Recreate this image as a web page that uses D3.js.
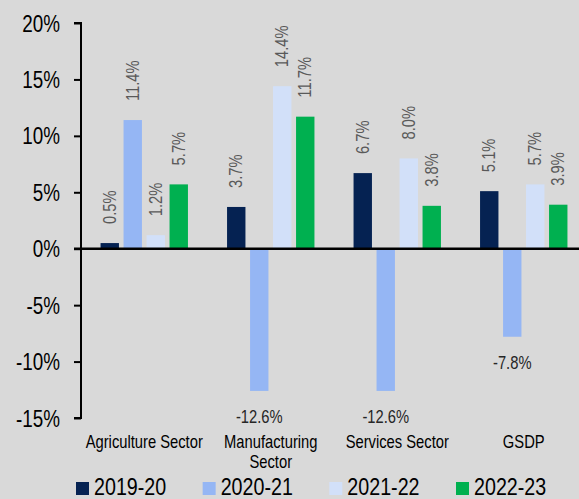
<!DOCTYPE html>
<html><head><meta charset="utf-8">
<script src="https://cdn.jsdelivr.net/npm/d3@7"></script>
<style>
html,body{margin:0;padding:0;background:#d9d9d9;}
svg{display:block;}
text{font-family:"Liberation Sans",Arial,sans-serif;}
</style></head>
<body>
<svg id="chart" width="579" height="499"></svg>
<script>
const categories = [["Agriculture Sector"], ["Manufacturing", "Sector"], ["Services Sector"], ["GSDP"]];
const seriesNames = ["2019-20", "2020-21", "2021-22", "2022-23"];
const colors = ["#052252", "#95b6f4", "#d2e0f9", "#00b050"];
const values = [
  [0.5, 3.7, 6.7, 5.1],
  [11.4, -12.6, -12.6, -7.8],
  [1.2, 14.4, 8.0, 5.7],
  [5.7, 11.7, 3.8, 3.9]
];
const yTicks = [20, 15, 10, 5, 0, -5, -10, -15];
const NARROW = 0.82;

const svg = d3.select("#chart");
svg.append("rect").attr("width", 579).attr("height", 499).attr("fill", "#d9d9d9");

function narrowText(parent, x, y, str, opts) {
  const rot = opts.rotate ? ` rotate(${opts.rotate})` : "";
  return parent.append("text")
    .attr("transform", `translate(${x},${y})${rot} scale(${NARROW},1)`)
    .attr("text-anchor", opts.anchor || "start")
    .attr("fill", opts.fill || "#000")
    .style("font-size", opts.size + "px")
    .text(str);
}

const catKeys = categories.map(c => c.join(" "));
const y = d3.scaleLinear().domain([-15, 20]).range([418, 23]);
const x0 = d3.scaleBand().domain(catKeys).range([81, 587]).padding(0);
const x1 = d3.scaleBand().domain(seriesNames).range([0, 92]).paddingInner(0.2).paddingOuter(0.1);
const groupOffset = (x0.bandwidth() - 92) / 2;

// y axis
const yAxis = d3.axisLeft(y).tickValues(yTicks).tickSize(7).tickFormat(d => d + "%");
const gy = svg.append("g").attr("transform", "translate(81,0)").call(yAxis);
gy.select(".domain").attr("stroke", "#000").attr("stroke-width", 2).attr("d", `M-7,${y(20)}H0V${y(-15)}H-7`);
gy.selectAll(".tick line").attr("stroke", "#000").attr("stroke-width", 2);
gy.selectAll(".tick text")
  .attr("x", null).attr("dy", null)
  .attr("transform", `translate(-21,8) scale(${NARROW},1)`)
  .attr("fill", "#000").style("font-size", "23px");

// bars
catKeys.forEach((cat, ci) => {
  const g = svg.append("g").attr("transform", `translate(${x0(cat) + groupOffset},0)`);
  seriesNames.forEach((s, si) => {
    const v = values[si][ci];
    const bx = x1(s), bw = x1.bandwidth();
    g.append("rect")
      .attr("x", bx).attr("width", bw)
      .attr("y", y(Math.max(0, v)))
      .attr("height", Math.abs(y(v) - y(0)))
      .attr("fill", colors[si]);
    const label = v.toFixed(1) + "%";
    if (v >= 0) {
      narrowText(g, bx + bw / 2 + 6, y(v) - 19, label, {rotate: -90, fill: "#595959", size: 18});
    } else {
      narrowText(g, bx + bw / 2, y(v) + 32, label, {anchor: "middle", fill: "#262626", size: 18});
    }
  });
});

// zero line
svg.append("line").attr("x1", 74).attr("x2", 579).attr("y1", y(0)).attr("y2", y(0))
  .attr("stroke", "#000").attr("stroke-width", 2.5);

// category labels
categories.forEach((lines, ci) => {
  const cx = x0(catKeys[ci]) + x0.bandwidth() / 2;
  lines.forEach((ln, li) => {
    narrowText(svg, cx, 448 + li * 20, ln, {anchor: "middle", size: 18});
  });
});

// legend
const legendX = d3.scalePoint().domain(seriesNames).range([76, 456]);
seriesNames.forEach((s, si) => {
  const lx = legendX(s);
  svg.append("rect").attr("x", lx).attr("y", 482).attr("width", 13).attr("height", 13).attr("fill", colors[si]);
  narrowText(svg, lx + 18, 495, s, {size: 24});
});
</script>
</body></html>
